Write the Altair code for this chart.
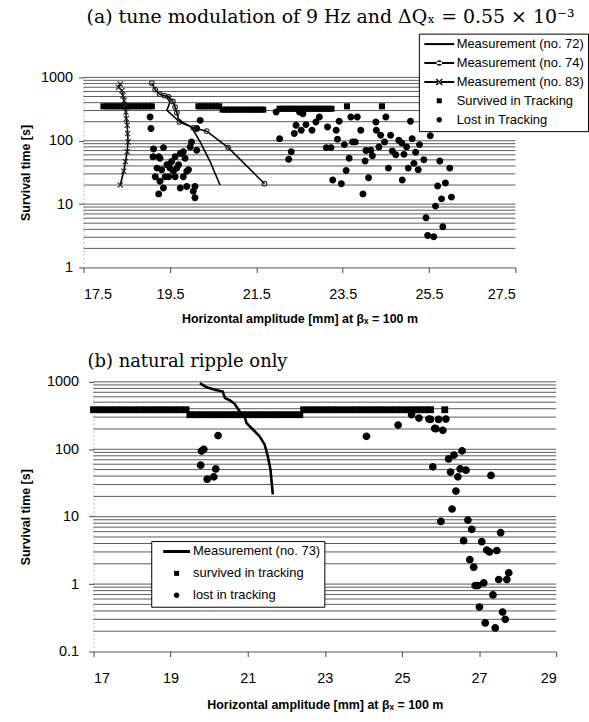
import altair as alt
import pandas as pd

# ---------------- panel (a): tune modulation 9 Hz ----------------
m72_x = [19.41, 19.50, 19.43, 19.66, 20.00, 20.20, 20.43, 20.66]
m72_y = [517, 406, 302, 218, 165, 96, 47, 20]

m74_x = [19.08, 19.16, 19.26, 19.37, 19.47, 19.57, 19.62, 19.66, 19.72, 20.04, 20.35, 20.85, 21.69]
m74_y = [815, 643, 548, 517, 492, 417, 340, 277, 198, 160, 142, 78, 21]

m83_x = [18.35, 18.31, 18.39, 18.41, 18.44, 18.47, 18.48, 18.49, 18.51, 18.52, 18.53, 18.51, 18.47, 18.43, 18.35]
m83_y = [790, 698, 620, 517, 432, 360, 285, 223, 176, 130, 96, 67, 47, 33, 20]

surv_a_x = [17.96, 18.04, 18.12, 18.20, 18.28, 18.36, 18.44, 18.52, 18.60, 18.68, 18.76, 18.84, 18.92, 19.00, 19.08,
            20.16, 20.24, 20.32, 20.40, 20.48, 20.56, 20.64,
            20.72, 20.80, 20.88, 20.96, 21.04, 21.12, 21.20, 21.28, 21.36, 21.44, 21.52, 21.60, 21.66,
            22.04, 22.12, 22.20, 22.28, 22.36, 22.44, 22.52, 22.60, 22.68, 22.76, 22.84, 22.92, 23.00, 23.08, 23.16, 23.24,
            23.60, 24.41]
surv_a_y = [350, 350, 350, 350, 350, 350, 350, 350, 350, 350, 350, 350, 350, 350, 350,
            350, 350, 350, 350, 350, 350, 350,
            310, 310, 310, 310, 310, 310, 310, 310, 310, 310, 310, 310, 310,
            320, 320, 320, 320, 320, 320, 320, 320, 320, 320, 320, 320, 320, 320, 320, 320,
            350, 350]

lost_a_x = [19.04, 19.06, 19.12, 19.35, 19.11, 19.24, 19.27, 19.20, 19.16, 19.31, 19.43, 19.54, 19.62, 19.74, 19.81,
            19.85, 19.50, 19.58, 19.66, 19.70, 19.39, 19.27, 19.47, 19.62, 19.81, 19.89, 19.93, 19.35, 19.24, 19.74,
            19.89, 20.08, 20.04, 20.08, 20.00, 19.97, 20.12, 20.20, 20.12, 21.96,
            22.04, 22.25, 22.31, 22.38, 22.42, 22.54, 22.65, 22.79, 22.88, 22.96, 22.58, 22.50, 23.15, 23.35, 23.42,
            23.38, 23.54, 23.69, 23.84, 23.92, 23.73, 23.79, 23.12, 23.23, 23.65, 23.58, 23.27, 23.47, 23.97, 24.10,
            24.04, 24.15, 24.19, 24.02, 24.27, 24.28, 24.38, 24.50, 24.47, 24.34, 24.61, 24.65, 24.73, 24.56, 24.80,
            24.87, 24.92, 24.88, 24.98, 25.07, 25.11, 25.19, 25.28, 25.15, 25.02, 25.25, 25.38, 25.53, 25.75, 25.98,
            25.88, 25.70, 26.02, 25.79, 25.65, 25.43, 25.82, 25.47, 25.61]
lost_a_y = [237, 156, 74, 78, 56, 56, 53, 37, 27, 35, 42, 47, 56, 63, 67,
            53, 37, 33, 37, 42, 27, 23, 27, 27, 27, 33, 35, 18, 14.5, 18,
            19, 19, 16, 12.6, 96, 80, 71, 210, 156, 285,
            108, 51, 67, 130, 176, 147, 180, 147, 198, 237, 267, 285, 165, 147, 203,
            106, 87, 237, 237, 147, 96, 96, 78, 78, 53, 34, 24, 21, 14.5, 26,
            70, 71, 58, 48, 198, 147, 122, 237, 96, 80, 122, 69, 60, 37, 102,
            92, 61, 24, 80, 203, 108, 66, 87, 44, 37, 35, 50, 120, 48, 37,
            21.5, 19.3, 12.9, 12.1, 9.3, 6.1, 4.4, 3.2, 3.05]

grid_a = [2, 3, 4, 5, 6, 7, 8, 9, 10, 20, 30, 40, 50, 60, 70, 80, 90,
          100, 200, 300, 400, 500, 600, 700, 800, 900, 1000]
xticks_a = [17.5, 19.5, 21.5, 23.5, 25.5, 27.5]
yticks_a = [1, 10, 100, 1000]

# ---------------- panel (b): natural ripple only ----------------
m73_x = [19.76, 19.93, 20.15, 20.35, 20.41, 20.54, 20.66, 20.79, 20.92, 20.97, 21.14, 21.31, 21.44, 21.52, 21.59, 21.65]
m73_y = [955, 830, 762, 720, 575, 530, 473, 364, 301, 245, 195, 155, 117, 79, 50, 21.5]

surv_b_x = [17.00, 17.15, 17.30, 17.45, 17.60, 17.75, 17.90, 18.05, 18.20, 18.35, 18.50, 18.65, 18.80, 18.95, 19.10, 19.25, 19.40,
            19.50, 19.65, 19.80, 19.95, 20.10, 20.25, 20.40, 20.55, 20.70, 20.85, 21.00, 21.15, 21.30, 21.45, 21.60, 21.75,
            21.90, 22.05, 22.20, 22.35,
            22.45, 22.60, 22.75, 22.90, 23.05, 23.20, 23.35, 23.50, 23.65, 23.80, 23.95, 24.10, 24.25, 24.40, 24.55, 24.70,
            24.85, 25.00, 25.15, 25.30, 25.45, 25.60, 25.74, 26.11]
surv_b_y = [386] * 17 + [326] * 20 + [386] * 24

lost_b_x = [20.23, 19.86, 19.80, 19.78, 20.17, 20.12, 19.95,
            25.25, 25.44, 25.70, 25.74, 25.95, 26.14, 24.90, 25.85, 25.88, 26.06, 24.08, 26.56, 26.35, 26.21,
            25.80, 26.26, 26.51, 26.66, 27.31, 26.45, 26.40, 26.30, 26.01, 26.71, 26.81, 27.56, 26.60, 27.07,
            27.20, 27.27, 27.46, 26.76, 26.86, 27.77, 27.51, 27.72, 26.90, 26.97, 27.12, 27.36, 27.01, 27.61,
            27.68, 27.16, 27.42]
lost_b_y = [160, 100, 94, 58, 51, 39, 36,
            326, 291, 281, 277, 277, 281, 229, 204, 202, 191, 156, 95, 82, 72,
            55, 46, 51, 49, 41, 39, 24, 13, 8.5, 8.9, 6.5, 5.8, 4.4, 4.25,
            3.2, 3.0, 3.15, 2.3, 1.78, 1.47, 1.17, 1.17, 0.95, 0.95, 1.04, 0.69, 0.457, 0.385,
            0.30, 0.265, 0.224]

grid_b = [0.2, 0.3, 0.4, 0.5, 0.6, 0.7, 0.8, 0.9, 1, 2, 3, 4, 5, 6, 7, 8, 9, 10, 20, 30, 40, 50, 60, 70, 80, 90,
          100, 200, 300, 400, 500, 600, 700, 800, 900, 1000]
xticks_b = [17, 19, 21, 23, 25, 27, 29]
yticks_b = [0.1, 1, 10, 100, 1000]

# ---------------- legend / marker symbols (filled paths) ----------------
BAR_A = "M-3,-0.2L3,-0.2L3,0.2L-3,0.2Z"
BAR_B = "M-2.7,-0.3L2.7,-0.3L2.7,0.3L-2.7,0.3Z"
DOT_S = "M-0.55,0A0.55,0.55 0 1,0 0.55,0A0.55,0.55 0 1,0 -0.55,0"
XS = "M-0.7,-0.5L-0.5,-0.7L0.7,0.5L0.5,0.7ZM-0.7,0.5L-0.5,0.7L0.7,-0.5L0.5,-0.7Z"
P_SQUARE = "M-0.5,-0.5L0.5,-0.5L0.5,0.5L-0.5,0.5Z"
P_CIRCLE = "M-0.55,0A0.55,0.55 0 1,0 0.55,0A0.55,0.55 0 1,0 -0.55,0"
P_XMARK = "M-1,-1L1,1M-1,1L1,-1"

NAMES_A = ["Measurement (no. 72)", "Measurement (no. 74)", "Measurement (no. 83)",
           "Survived in Tracking", "Lost in Tracking"]
PATHS_A = [BAR_A, BAR_A + DOT_S, BAR_A + XS, P_SQUARE, P_CIRCLE]
NAMES_B = ["Measurement (no. 73)", "survived in tracking", "lost in tracking"]
PATHS_B = [BAR_B, P_SQUARE, P_CIRCLE]


def frame(name, xs, ys):
    return pd.DataFrame({"x": xs, "y": ys, "series": name, "i": list(range(len(xs)))})


AX_TITLE = "Horizontal amplitude [mm] at βₓ = 100 m"
Y_TITLE = "Survival time [s]"
NB = "\u00a0"


def panel(W, x0, H, xdom, ydom, xticks, yticks, xfmt, grid_vals, lines, marker_sets, surv, lost,
          names, paths, leg, ylabpad, ytitlepad, yoff, xlabpad, xtitlepad, title, tsize, title_dx, toff,
          line_w, sq_size, ci_size):
    xs = alt.Scale(domain=xdom, nice=False, zero=False, range=[x0, W])
    ys = alt.Scale(type="log", domain=ydom, nice=False)
    xa = alt.Axis(values=xticks, format=xfmt, title=AX_TITLE, grid=False, tickSize=5,
                  labelPadding=xlabpad, titlePadding=xtitlepad, domainColor="#555", tickColor="#444")
    ya = alt.Axis(values=yticks, format="~g", title=Y_TITLE, grid=False, tickSize=5, offset=yoff,
                  labelPadding=ylabpad, titlePadding=ytitlepad, domainColor="#bbb",
                  domainDash=[2, 2], tickColor="#444")
    X = alt.X("x:Q", scale=xs, axis=xa)
    Y = alt.Y("y:Q", scale=ys, axis=ya)

    layers = []
    layers.append(
        alt.Chart(pd.DataFrame({"y": grid_vals})).mark_rule(color="#333", strokeWidth=0.8)
        .encode(y=alt.Y("y:Q", scale=ys, axis=ya), x=alt.value(x0), x2=alt.value(W))
    )
    shape = alt.Shape(
        "series:N",
        scale=alt.Scale(domain=names, range=paths),
        legend=alt.Legend(title=None, orient="none", legendX=leg["x"], legendY=leg["y"],
                          symbolSize=100, symbolOffset=leg["so"], labelOffset=leg["lo"],
                          strokeColor="black", fillColor="white", padding=4, rowPadding=leg["rp"],
                          labelFont="Liberation Sans", labelFontSize=13, labelColor="black",
                          labelExpr="datum.label + '" + NB * leg["nb"] + "'",
                          labelLimit=300),
    )
    layers.append(
        alt.Chart(surv).mark_point(filled=True, color="black", strokeWidth=0, opacity=1, size=sq_size)
        .encode(x=X, y=Y, shape=shape)
    )
    layers.append(
        alt.Chart(lost).mark_point(filled=True, color="black", strokeWidth=0, opacity=1, size=ci_size)
        .encode(x=X, y=Y, shape=shape)
    )
    for ln in lines:
        layers.append(
            alt.Chart(ln).mark_line(color="black", strokeWidth=line_w)
            .encode(x=X, y=Y, detail="series:N", order="i:Q")
        )
    for df, shp, sz in marker_sets:
        layers.append(
            alt.Chart(df).mark_point(shape=shp, filled=False, color="#222", strokeWidth=1.1, opacity=1, size=sz)
            .encode(x=X, y=Y)
        )
    return alt.layer(*layers).properties(
        width=W, height=H,
        title=alt.TitleParams(text=title, font="DejaVu Serif", fontSize=tsize, fontWeight="normal",
                              anchor="start", frame="group", dx=title_dx, offset=toff, color="black"),
    )


top = panel(
    434, 0, 191, [17.5, 27.5], [1, 1000], xticks_a, yticks_a, ".1f", grid_a,
    [frame(NAMES_A[0], m72_x, m72_y), frame(NAMES_A[1], m74_x, m74_y), frame(NAMES_A[2], m83_x, m83_y)],
    [(frame(NAMES_A[1], m74_x, m74_y), "circle", 22), (frame(NAMES_A[2], m83_x, m83_y), P_XMARK, 28)],
    frame(NAMES_A[3], surv_a_x, surv_a_y), frame(NAMES_A[4], lost_a_x, lost_a_y),
    NAMES_A, PATHS_A, {"x": 337, "y": -44, "so": 10, "lo": 11, "rp": 5, "nb": 3},
    6, 8, 0, 15, 12,
    "(a) tune modulation of 9 Hz and ΔQₓ = 0.55 × 10⁻³", 19, 3, 6, 1.6, 150, 160,
)

bottom = panel(
    475, 10, 271, [17, 29], [0.1, 1000], xticks_b, yticks_b, "d", grid_b,
    [frame(NAMES_B[0], m73_x, m73_y)],
    [],
    frame(NAMES_B[1], surv_b_x, surv_b_y), frame(NAMES_B[2], lost_b_x, lost_b_y),
    NAMES_B, PATHS_B, {"x": 68, "y": 160, "so": 15, "lo": 10, "rp": 8, "nb": 2},
    10, 14, -10, 15, 14,
    "(b) natural ripple only", 18, 4, 3, 2.6, 190, 200,
)

chart = (
    alt.concat(top, bottom, columns=1, spacing=28)
    .resolve_scale(x="independent", y="independent", shape="independent")
    .resolve_legend(shape="independent")
    .properties(padding={"left": 19, "top": 6, "right": 0, "bottom": 0}, background="white")
    .configure_view(stroke=None)
    .configure_axis(labelFont="Liberation Sans", labelFontSize=14.5, labelColor="black",
                    titleFont="Liberation Sans", titleFontSize=12.5, titleFontWeight="bold",
                    titleColor="black")
)

chart.save("out.html", embed_options={"renderer": "svg", "actions": False})
